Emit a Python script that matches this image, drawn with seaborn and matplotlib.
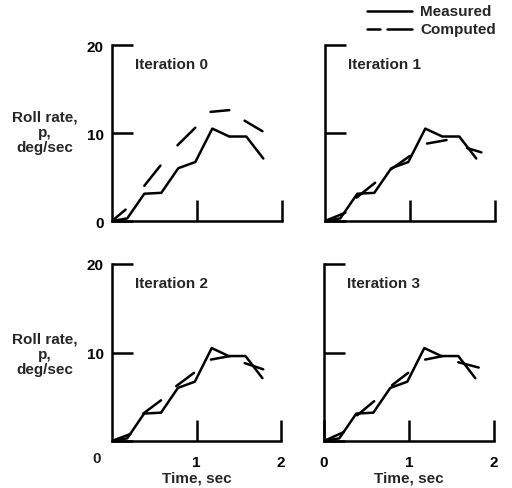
import matplotlib
matplotlib.use("Agg")
import matplotlib.pyplot as plt
import seaborn as sns
import pandas as pd
import numpy as np

sns.set_style("white")
plt.rcParams['font.family'] = ['Liberation Sans', 'DejaVu Sans']
plt.rcParams['font.weight'] = 'bold'

# Measured roll rate (same in all panels)
time_meas = [0, 0.18, 0.38, 0.58, 0.78, 0.98, 1.18, 1.38, 1.58, 1.78]
p_meas = [0, 0.3, 3.1, 3.2, 6.0, 6.7, 10.5, 9.6, 9.6, 7.1]

# Computed roll rate per iteration (dash end points)
time_comp_0 = [0, 0.16, 0.38, 0.57, 0.77, 0.98, 1.16, 1.38, 1.56, 1.77]
p_comp_0 = [0, 1.3, 4.0, 6.3, 8.6, 10.6, 12.4, 12.6, 11.4, 10.2]
time_comp_1 = [0, 0.24, 0.37, 0.59, 0.78, 1.0, 1.2, 1.43, 1.67, 1.84]
p_comp_1 = [0, 0.95, 2.65, 4.35, 5.9, 7.4, 8.8, 9.2, 8.3, 7.8]
time_comp_2 = [0, 0.22, 0.37, 0.58, 0.76, 0.97, 1.17, 1.4, 1.57, 1.79]
p_comp_2 = [0, 0.8, 3.1, 4.6, 6.2, 7.7, 9.2, 9.6, 8.8, 8.1]
time_comp_3 = [0, 0.23, 0.39, 0.59, 0.8, 0.99, 1.19, 1.4, 1.58, 1.82]
p_comp_3 = [0, 1.0, 2.9, 4.5, 6.3, 7.7, 9.2, 9.6, 8.9, 8.3]

titles = ["Iteration 0", "Iteration 1", "Iteration 2", "Iteration 3"]
comp_times = [time_comp_0, time_comp_1, time_comp_2, time_comp_3]
comp_vals = [p_comp_0, p_comp_1, p_comp_2, p_comp_3]

W, H = 512, 489
fig = plt.figure(figsize=(W / 100, H / 100), dpi=100)

# axes boxes in pixels: (left, top, right, bottom)
boxes = [(112, 46, 282, 222), (325, 46, 495, 222),
         (112, 265, 281, 442), (324, 265, 494, 442)]

meas_df = pd.DataFrame({"t": time_meas, "p": p_meas})
LW = 1.8
FS = 11

for i, (l, t, r, b) in enumerate(boxes):
    ax = fig.add_axes([l / W, 1 - b / H, (r - l) / W, (b - t) / H])
    sns.lineplot(data=meas_df, x="t", y="p", ax=ax, color="black", lw=LW,
                 estimator=None, sort=False)
    seg = np.arange(len(comp_times[i])) // 2
    comp_df = pd.DataFrame({"t": comp_times[i], "p": comp_vals[i], "seg": seg})
    sns.lineplot(data=comp_df, x="t", y="p", units="seg", ax=ax, color="black",
                 lw=LW, estimator=None, sort=False)
    ax.set_xlim(0, 2)
    ax.set_ylim(0, 20)
    for s in ["top", "right"]:
        ax.spines[s].set_visible(False)
    for s in ["left", "bottom"]:
        ax.spines[s].set_linewidth(LW)
        ax.spines[s].set_color("black")
    ax.set_xlabel("")
    ax.set_ylabel("")
    ax.set_xticks([1, 2])
    ax.set_yticks([0, 10, 20])
    ax.tick_params(direction="in", length=15, width=LW, color="black",
                   labelsize=FS, labelcolor="black", bottom=True, left=True)
    ax.tick_params(axis="y", pad=6)
    ax.tick_params(axis="x", pad=10)
    ax.text(0.135, 0.89, titles[i], transform=ax.transAxes, fontsize=FS,
            fontweight="bold", ha="left", va="center")
    if i in (1, 3):
        ax.set_yticklabels([])
    if i in (0, 1):
        ax.set_xticklabels([])
    if i == 2:
        ax.set_yticklabels(["", "10", "20"])
    if i == 3:
        ax.set_xticks([0, 1, 2])
    if i in (2, 3):
        ax.set_xlabel("Time, sec", fontsize=FS, fontweight="bold", labelpad=1)
    for lab in ax.get_xticklabels() + ax.get_yticklabels():
        lab.set_fontweight("bold")

# "0" under the lower-left panel
fig.text(97 / W, 1 - 459 / H, "0", fontsize=FS, fontweight="bold",
         ha="center", va="center")

# y labels
for yc in (133, 355):
    fig.text(45 / W, 1 - yc / H, "Roll rate,\np,\ndeg/sec", fontsize=FS,
             fontweight="bold", ha="center", va="center", linespacing=1.1)

# legend
fig.add_artist(plt.Line2D([367 / W, 412 / W], [1 - 12 / H, 1 - 12 / H],
                          color="black", lw=LW))
fig.add_artist(plt.Line2D([367 / W, 380 / W], [1 - 30 / H, 1 - 30 / H],
                          color="black", lw=LW))
fig.add_artist(plt.Line2D([387 / W, 412 / W], [1 - 30 / H, 1 - 30 / H],
                          color="black", lw=LW))
fig.text(420 / W, 1 - 12 / H, "Measured", fontsize=FS, fontweight="bold",
         ha="left", va="center")
fig.text(420 / W, 1 - 30 / H, "Computed", fontsize=FS, fontweight="bold",
         ha="left", va="center")

fig.savefig("out.png", dpi=100)
